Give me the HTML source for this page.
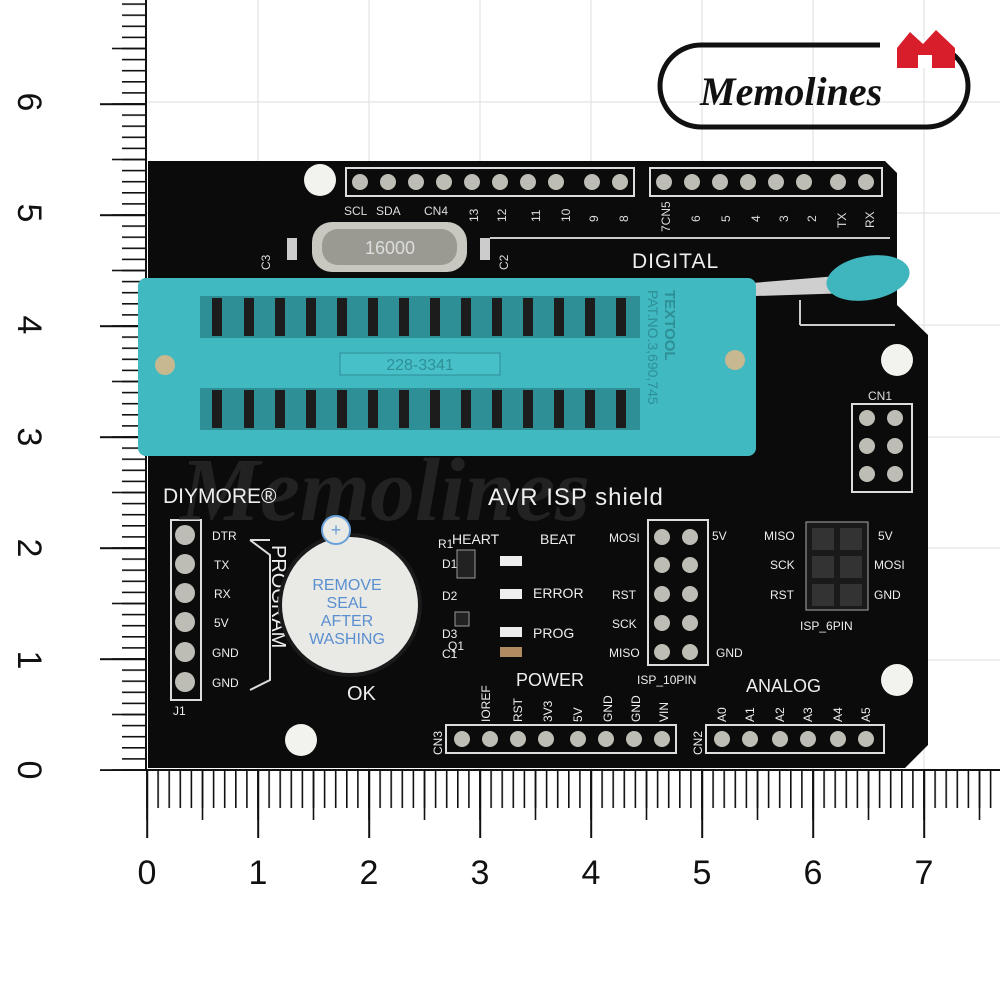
<!DOCTYPE html>
<html><head><meta charset="utf-8"><style>
html,body{margin:0;padding:0;background:#fff}
svg{display:block}
text{font-family:"Liberation Sans",sans-serif}
</style></head><body>
<svg width="1000" height="1000" viewBox="0 0 1000 1000" xmlns="http://www.w3.org/2000/svg">
<defs>
<pattern id="pmin" patternUnits="userSpaceOnUse" x="146.2" y="0" width="11.1" height="10"><rect x="0" y="0" width="1.6" height="10" fill="#111"/></pattern>
<pattern id="pmid" patternUnits="userSpaceOnUse" x="146.2" y="0" width="55.5" height="10"><rect x="0" y="0" width="1.6" height="10" fill="#111"/></pattern>
<pattern id="pmaj" patternUnits="userSpaceOnUse" x="146.2" y="0" width="111" height="10"><rect x="0" y="0" width="2" height="10" fill="#111"/></pattern>
<pattern id="qmin" patternUnits="userSpaceOnUse" x="0" y="769.2" width="10" height="11.1"><rect x="0" y="0" width="10" height="1.6" fill="#111"/></pattern>
<pattern id="qmid" patternUnits="userSpaceOnUse" x="0" y="769.2" width="10" height="55.5"><rect x="0" y="0" width="10" height="1.6" fill="#111"/></pattern>
<pattern id="qmaj" patternUnits="userSpaceOnUse" x="0" y="769.2" width="10" height="111"><rect x="0" y="0" width="10" height="2" fill="#111"/></pattern>
</defs>
<rect width="1000" height="1000" fill="#fff"/>
<!-- grid -->
<g stroke="#ddd" stroke-width="1">
<line x1="147" y1="102" x2="1000" y2="102"/><line x1="147" y1="213" x2="1000" y2="213"/>
<line x1="147" y1="325" x2="1000" y2="325"/><line x1="147" y1="437" x2="1000" y2="437"/>
<line x1="147" y1="548" x2="1000" y2="548"/><line x1="147" y1="660" x2="1000" y2="660"/>
<line x1="258" y1="0" x2="258" y2="770"/><line x1="369" y1="0" x2="369" y2="770"/>
<line x1="480" y1="0" x2="480" y2="770"/><line x1="591" y1="0" x2="591" y2="770"/>
<line x1="702" y1="0" x2="702" y2="770"/><line x1="813" y1="0" x2="813" y2="770"/>
<line x1="924" y1="0" x2="924" y2="770"/>
</g>
<!-- rulers -->
<g stroke="#111" stroke-width="2">
<line x1="146" y1="0" x2="146" y2="771"/><line x1="145" y1="770" x2="1000" y2="770"/>
</g>
<rect x="146" y="770" width="854" height="38" fill="url(#pmin)"/>
<rect x="146" y="770" width="854" height="50" fill="url(#pmid)"/>
<rect x="146" y="770" width="854" height="68" fill="url(#pmaj)"/>
<rect x="122" y="0" width="24" height="771" fill="url(#qmin)"/>
<rect x="112" y="0" width="34" height="771" fill="url(#qmid)"/>
<rect x="100" y="0" width="46" height="771" fill="url(#qmaj)"/>
<g font-size="34" fill="#111">
<text transform="translate(30,102) rotate(90)" text-anchor="middle" dy="12">6</text>
<text transform="translate(30,213) rotate(90)" text-anchor="middle" dy="12">5</text>
<text transform="translate(30,325) rotate(90)" text-anchor="middle" dy="12">4</text>
<text transform="translate(30,437) rotate(90)" text-anchor="middle" dy="12">3</text>
<text transform="translate(30,548) rotate(90)" text-anchor="middle" dy="12">2</text>
<text transform="translate(30,660) rotate(90)" text-anchor="middle" dy="12">1</text>
<text transform="translate(30,770) rotate(90)" text-anchor="middle" dy="12">0</text>
<text x="147" y="884" text-anchor="middle">0</text><text x="258" y="884" text-anchor="middle">1</text>
<text x="369" y="884" text-anchor="middle">2</text><text x="480" y="884" text-anchor="middle">3</text>
<text x="591" y="884" text-anchor="middle">4</text><text x="702" y="884" text-anchor="middle">5</text>
<text x="813" y="884" text-anchor="middle">6</text><text x="924" y="884" text-anchor="middle">7</text>
</g>
<!-- logo -->
<rect x="660" y="45" width="308" height="82" rx="41" fill="none" stroke="#111" stroke-width="5"/>
<rect x="880" y="40" width="90" height="12" fill="#fff"/>
<path d="M897 48 L910 32 L923 44 L936 30 L955 48 L955 68 L897 68Z" fill="#d81e2a"/>
<rect x="918" y="55" width="14" height="13" fill="#fff"/>
<text x="700" y="105" style="font-family:'Liberation Serif',serif;font-style:italic;font-weight:bold" font-size="40" fill="#111">Memolines</text>
<!-- board -->
<path d="M148 161 L885 161 L897 173 L897 305 L928 335 L928 745 L905 768 L148 768Z" fill="#0b0b0b"/>
<g fill="#f2f2ee"><circle cx="320" cy="180" r="16"/><circle cx="897" cy="360" r="16"/><circle cx="897" cy="680" r="16"/><circle cx="301" cy="740" r="16"/></g>
<g fill="none" stroke="#ddd" stroke-width="2">
<rect x="346" y="168" width="288" height="28"/><rect x="650" y="168" width="232" height="28"/>
<rect x="446" y="725" width="230" height="28"/><rect x="706" y="725" width="178" height="28"/>
<rect x="171" y="520" width="30" height="180"/><rect x="852" y="404" width="60" height="88"/>
<rect x="648" y="520" width="60" height="145"/>
</g>
<g fill="#bdbdb5">
<circle cx="360" cy="182" r="8"/><circle cx="388" cy="182" r="8"/><circle cx="416" cy="182" r="8"/><circle cx="444" cy="182" r="8"/><circle cx="472" cy="182" r="8"/><circle cx="500" cy="182" r="8"/><circle cx="528" cy="182" r="8"/><circle cx="556" cy="182" r="8"/><circle cx="592" cy="182" r="8"/><circle cx="620" cy="182" r="8"/>
<circle cx="664" cy="182" r="8"/><circle cx="692" cy="182" r="8"/><circle cx="720" cy="182" r="8"/><circle cx="748" cy="182" r="8"/><circle cx="776" cy="182" r="8"/><circle cx="804" cy="182" r="8"/><circle cx="838" cy="182" r="8"/><circle cx="866" cy="182" r="8"/>
<circle cx="462" cy="739" r="8"/><circle cx="490" cy="739" r="8"/><circle cx="518" cy="739" r="8"/><circle cx="546" cy="739" r="8"/><circle cx="578" cy="739" r="8"/><circle cx="606" cy="739" r="8"/><circle cx="634" cy="739" r="8"/><circle cx="662" cy="739" r="8"/>
<circle cx="722" cy="739" r="8"/><circle cx="750" cy="739" r="8"/><circle cx="780" cy="739" r="8"/><circle cx="808" cy="739" r="8"/><circle cx="838" cy="739" r="8"/><circle cx="866" cy="739" r="8"/>
<circle cx="185" cy="535" r="10"/><circle cx="185" cy="564" r="10"/><circle cx="185" cy="593" r="10"/><circle cx="185" cy="622" r="10"/><circle cx="185" cy="652" r="10"/><circle cx="185" cy="682" r="10"/>
<circle cx="867" cy="418" r="8"/><circle cx="895" cy="418" r="8"/><circle cx="867" cy="446" r="8"/><circle cx="895" cy="446" r="8"/><circle cx="867" cy="474" r="8"/><circle cx="895" cy="474" r="8"/>
<circle cx="662" cy="537" r="8"/><circle cx="690" cy="537" r="8"/><circle cx="662" cy="565" r="8"/><circle cx="690" cy="565" r="8"/><circle cx="662" cy="594" r="8"/><circle cx="690" cy="594" r="8"/><circle cx="662" cy="623" r="8"/><circle cx="690" cy="623" r="8"/><circle cx="662" cy="652" r="8"/><circle cx="690" cy="652" r="8"/>
</g>
<rect x="806" y="522" width="62" height="88" fill="#1a1a1a" stroke="#aaa"/>
<g fill="#333"><rect x="812" y="528" width="22" height="22"/><rect x="840" y="528" width="22" height="22"/><rect x="812" y="556" width="22" height="22"/><rect x="840" y="556" width="22" height="22"/><rect x="812" y="584" width="22" height="22"/><rect x="840" y="584" width="22" height="22"/></g>
<rect x="312" y="222" width="155" height="50" rx="20" fill="#c8c8c0"/>
<rect x="322" y="229" width="135" height="36" rx="16" fill="#9a9a92"/>
<text x="390" y="254" font-size="18" fill="#ddd" text-anchor="middle">16000</text>
<rect x="287" y="238" width="10" height="22" fill="#ccc"/><rect x="480" y="238" width="10" height="22" fill="#ccc"/>
<line x1="490" y1="238" x2="890" y2="238" stroke="#ccc" stroke-width="2"/>
<text x="632" y="268" font-size="21" fill="#eee" letter-spacing="1">DIGITAL</text>
<g font-size="12" fill="#ddd">
<text x="344" y="215">SCL</text><text x="376" y="215">SDA</text><text x="424" y="215">CN4</text>
<text transform="translate(478,222) rotate(-90)">13</text><text transform="translate(506,222) rotate(-90)">12</text>
<text transform="translate(540,222) rotate(-90)">11</text><text transform="translate(570,222) rotate(-90)">10</text>
<text transform="translate(598,222) rotate(-90)">9</text><text transform="translate(628,222) rotate(-90)">8</text>
<text transform="translate(670,232) rotate(-90)">7CN5</text><text transform="translate(700,222) rotate(-90)">6</text>
<text transform="translate(730,222) rotate(-90)">5</text><text transform="translate(760,222) rotate(-90)">4</text>
<text transform="translate(788,222) rotate(-90)">3</text><text transform="translate(816,222) rotate(-90)">2</text>
<text transform="translate(846,228) rotate(-90)">TX</text><text transform="translate(874,228) rotate(-90)">RX</text>
<text transform="translate(270,270) rotate(-90)">C3</text><text transform="translate(508,270) rotate(-90)">C2</text>
<text x="868" y="400">CN1</text>
</g>
<path d="M690 288 L850 275 L852 293 L692 298Z" fill="#cfcfcf"/>
<ellipse cx="868" cy="278" rx="42" ry="22" transform="rotate(-10 868 278)" fill="#3fb5be"/>
<line x1="800" y1="300" x2="800" y2="325" stroke="#ccc" stroke-width="2"/>
<line x1="800" y1="325" x2="895" y2="325" stroke="#ccc" stroke-width="2"/>
<rect x="138" y="278" width="618" height="178" rx="8" fill="#40b9c1"/>
<rect x="200" y="296" width="440" height="42" fill="#2e8f96"/>
<rect x="200" y="388" width="440" height="42" fill="#2e8f96"/>
<g fill="#1c1c1c">
<rect x="212" y="298" width="10" height="38"/><rect x="244" y="298" width="10" height="38"/><rect x="275" y="298" width="10" height="38"/><rect x="306" y="298" width="10" height="38"/><rect x="337" y="298" width="10" height="38"/><rect x="368" y="298" width="10" height="38"/><rect x="399" y="298" width="10" height="38"/><rect x="430" y="298" width="10" height="38"/><rect x="461" y="298" width="10" height="38"/><rect x="492" y="298" width="10" height="38"/><rect x="523" y="298" width="10" height="38"/><rect x="554" y="298" width="10" height="38"/><rect x="585" y="298" width="10" height="38"/><rect x="616" y="298" width="10" height="38"/>
<rect x="212" y="390" width="10" height="38"/><rect x="244" y="390" width="10" height="38"/><rect x="275" y="390" width="10" height="38"/><rect x="306" y="390" width="10" height="38"/><rect x="337" y="390" width="10" height="38"/><rect x="368" y="390" width="10" height="38"/><rect x="399" y="390" width="10" height="38"/><rect x="430" y="390" width="10" height="38"/><rect x="461" y="390" width="10" height="38"/><rect x="492" y="390" width="10" height="38"/><rect x="523" y="390" width="10" height="38"/><rect x="554" y="390" width="10" height="38"/><rect x="585" y="390" width="10" height="38"/><rect x="616" y="390" width="10" height="38"/>
</g>
<rect x="340" y="353" width="160" height="22" fill="#48c0c8" stroke="#2e8f96"/>
<text x="420" y="370" font-size="16" fill="#2e8f96" text-anchor="middle">228-3341</text>
<circle cx="165" cy="365" r="10" fill="#c8b890"/><circle cx="735" cy="360" r="10" fill="#c8b890"/>
<text transform="translate(665,290) rotate(90)" font-size="15" fill="#2e8f96" font-weight="bold">TEXTOOL</text>
<text transform="translate(648,290) rotate(90)" font-size="14" fill="#2e8f96">PAT.NO.3,690,745</text>
<text x="180" y="520" style="font-family:'Liberation Serif',serif;font-style:italic;font-weight:bold" font-size="90" fill="#3a3a3a" opacity="0.5">Memolines</text>
<g fill="#eee">
<text x="163" y="503" font-size="21">DIYMORE®</text>
<text x="488" y="505" font-size="24" letter-spacing="1">AVR ISP shield</text>
<text x="452" y="544" font-size="14">HEART</text><text x="540" y="544" font-size="14">BEAT</text>
<text x="533" y="598" font-size="14">ERROR</text><text x="533" y="638" font-size="14">PROG</text>
<text x="516" y="686" font-size="18">POWER</text><text x="746" y="692" font-size="18">ANALOG</text>
<text x="347" y="700" font-size="20">OK</text>
<text x="637" y="684" font-size="12">ISP_10PIN</text><text x="800" y="630" font-size="12">ISP_6PIN</text>
<text transform="translate(272,545) rotate(90)" font-size="20">PROGRAM</text>
</g>
<g fill="#eee" font-size="12">
<text x="212" y="540">DTR</text><text x="214" y="569">TX</text><text x="214" y="598">RX</text><text x="214" y="627">5V</text><text x="212" y="657">GND</text><text x="212" y="687">GND</text>
<text x="173" y="715">J1</text>
<text x="609" y="542">MOSI</text><text x="612" y="599">RST</text><text x="612" y="628">SCK</text><text x="609" y="657">MISO</text>
<text x="712" y="540">5V</text><text x="716" y="657">GND</text>
<text x="764" y="540">MISO</text><text x="770" y="569">SCK</text><text x="770" y="599">RST</text>
<text x="878" y="540">5V</text><text x="874" y="569">MOSI</text><text x="874" y="599">GND</text>
<text x="438" y="548">R1</text><text x="442" y="568">D1</text><text x="442" y="600">D2</text><text x="442" y="638">D3</text><text x="442" y="658">C1</text><text x="448" y="650">Q1</text>
<text transform="translate(490,722) rotate(-90)">IOREF</text><text transform="translate(522,722) rotate(-90)">RST</text>
<text transform="translate(552,722) rotate(-90)">3V3</text><text transform="translate(582,722) rotate(-90)">5V</text>
<text transform="translate(612,722) rotate(-90)">GND</text><text transform="translate(640,722) rotate(-90)">GND</text>
<text transform="translate(668,722) rotate(-90)">VIN</text><text transform="translate(442,755) rotate(-90)">CN3</text>
<text transform="translate(702,755) rotate(-90)">CN2</text>
<text transform="translate(726,722) rotate(-90)">A0</text><text transform="translate(754,722) rotate(-90)">A1</text>
<text transform="translate(784,722) rotate(-90)">A2</text><text transform="translate(812,722) rotate(-90)">A3</text>
<text transform="translate(842,722) rotate(-90)">A4</text><text transform="translate(870,722) rotate(-90)">A5</text>
</g>
<g><rect x="500" y="556" width="22" height="10" fill="#eee"/><rect x="500" y="589" width="22" height="10" fill="#eee"/><rect x="500" y="627" width="22" height="10" fill="#eee"/><rect x="500" y="647" width="22" height="10" fill="#b08a60"/>
<rect x="457" y="550" width="18" height="28" fill="#222" stroke="#999"/><rect x="455" y="612" width="14" height="14" fill="#222" stroke="#999"/></g>
<path d="M250 540 L270 555 L270 680 L250 690" fill="none" stroke="#ddd" stroke-width="2"/>
<line x1="250" y1="540" x2="270" y2="540" stroke="#ddd" stroke-width="2"/>
<circle cx="350" cy="605" r="72" fill="#1a1a1a"/>
<circle cx="350" cy="605" r="68" fill="#e9e9e6"/>
<circle cx="336" cy="530" r="14" fill="#e9e9e6" stroke="#6aa0d8" stroke-width="2"/>
<text x="336" y="536" font-size="18" fill="#6aa0d8" text-anchor="middle">+</text>
<g font-size="16" fill="#5a8fd0" text-anchor="middle">
<text x="347" y="590">REMOVE</text><text x="347" y="608">SEAL</text><text x="347" y="626">AFTER</text><text x="347" y="644">WASHING</text>
</g>
</svg>
</body></html>
